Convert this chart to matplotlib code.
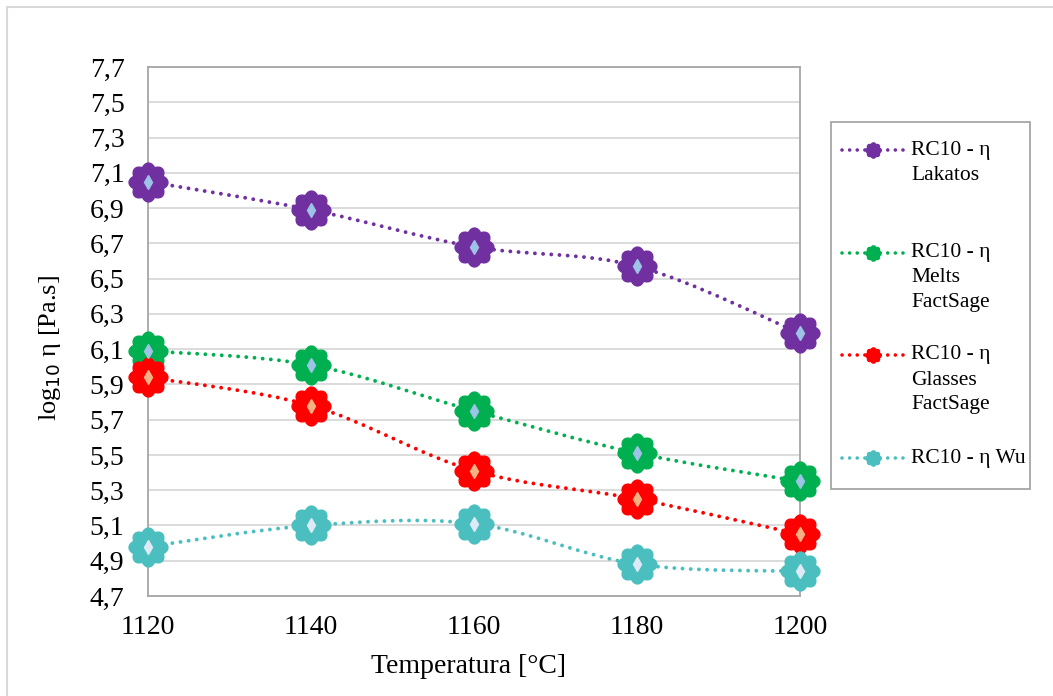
import numpy as np
import matplotlib
matplotlib.use("Agg")
import matplotlib.pyplot as plt
from matplotlib.path import Path
from matplotlib.patches import PathPatch, Rectangle
from matplotlib.ticker import FuncFormatter
from matplotlib.lines import Line2D

plt.rcParams['font.family'] = ['Liberation Serif', 'DejaVu Serif']

# Data
temps = [1120, 1140, 1160, 1180, 1200]
lakatos = [7.05, 6.89, 6.68, 6.57, 6.19]
melts = [6.09, 6.01, 5.75, 5.51, 5.35]
glasses = [5.94, 5.78, 5.41, 5.25, 5.05]
wu = [4.98, 5.10, 5.11, 4.88, 4.84]

labels = [["RC10 - η", "Lakatos"], ["RC10 - η", "Melts", "FactSage"],
          ["RC10 - η", "Glasses", "FactSage"], ["RC10 - η Wu"]]
colors = ["#7030A0", "#00B050", "#FF0000", "#4BBFBF"]
centers = ["#9DC3E6", "#9DC3E6", "#F4B183", "#DEEBF7"]

W, H = 1053, 696


def fx(px):
    return px / W


def fy(py):
    return 1 - py / H


# flower-shaped marker: rounded lobes, sharp notches
th = np.linspace(0, 2 * np.pi, 161)
r = 0.82 + 0.18 * np.abs(np.cos(4 * th))
flower = Path(np.column_stack([r * np.cos(th), r * np.sin(th)]), closed=True)

DOTS = (0, (0.01, 2.1))


def smooth_path(x, y, t=1 / 6):
    # Catmull-Rom style smoothing (like Excel's smoothed line)
    pts = np.column_stack([x, y]).astype(float)
    verts = [pts[0]]
    codes = [Path.MOVETO]
    n = len(pts)
    for i in range(n - 1):
        p0 = pts[max(i - 1, 0)]
        p1 = pts[i]
        p2 = pts[i + 1]
        p3 = pts[min(i + 2, n - 1)]
        verts += [p1 + (p2 - p0) * t, p2 - (p3 - p1) * t, p2]
        codes += [Path.CURVE4] * 3
    return Path(verts, codes)


fig = plt.figure(figsize=(W / 100, H / 100), dpi=100)
fig.patches.append(Rectangle((fx(7), -0.01), 1.05, fy(7) + 0.01,
                             transform=fig.transFigure, fill=False,
                             edgecolor="#D9D9D9", linewidth=1.5))
ax = fig.add_axes([fx(148), fy(596), fx(800) - fx(148), fy(67) - fy(596)])
ax.set_xlim(1120, 1200)
ax.set_ylim(4.7, 7.7)

for vals, c, cc in zip([lakatos, melts, glasses, wu], colors, centers):
    # smooth in display space so the curve shape isn't distorted by axis scaling
    disp = ax.transData.transform(np.column_stack([temps, vals]))
    p = smooth_path(disp[:, 0], disp[:, 1])
    v = ax.transData.inverted().transform(p.vertices)
    ax.add_patch(PathPatch(Path(v, p.codes), fill=False, edgecolor=c,
                           linewidth=2.8, linestyle=DOTS,
                           capstyle="round", zorder=3, clip_on=False))
    ax.plot(temps, vals, linestyle="none", marker=flower, markersize=28,
            markerfacecolor=c, markeredgecolor=c, zorder=4, clip_on=False)
    ax.plot(temps, vals, linestyle="none", marker="d", markersize=7.5,
            markerfacecolor=cc, markeredgecolor=cc, zorder=5, clip_on=False)

ax.set_xticks(temps)
ax.set_yticks(np.arange(4.7, 7.71, 0.2))
ax.yaxis.set_major_formatter(FuncFormatter(lambda v, p: f"{v:.1f}".replace(".", ",")))
ax.tick_params(axis="both", length=0, labelsize=20, colors="black")
ax.tick_params(axis="y", pad=17)
ax.tick_params(axis="x", pad=14)
ax.grid(axis="y", color="#D9D9D9", linewidth=1.3)
ax.set_axisbelow(True)
for s in ax.spines.values():
    s.set_color("#A6A6A6")
    s.set_linewidth(1.3)

ax.set_xlabel("Temperatura [°C]", fontsize=20)
ax.xaxis.set_label_coords((468 - 148) / 652, -(654 - 596) / 529)
ax.set_ylabel(r"log$_{10}$ η [Pa.s]", fontsize=19)
ax.yaxis.set_label_coords(-(148 - 63) / 652, (596 - 348) / 529)

# legend drawn by hand to match the layout
fig.patches.append(Rectangle((fx(831), fy(489)), fx(1030) - fx(831), fy(122) - fy(489),
                             transform=fig.transFigure, fill=False,
                             edgecolor="#A6A6A6", linewidth=1.3))
entry_y = [150, 253, 355, 458]
for c, lines, yy in zip(colors, labels, entry_y):
    fig.add_artist(Line2D([fx(842), fx(904)], [fy(yy), fy(yy)], color=c,
                          linewidth=2.6, linestyle=DOTS, dash_capstyle="round",
                          transform=fig.transFigure))
    fig.add_artist(Line2D([fx(873)], [fy(yy)], marker=flower, markersize=11,
                          markerfacecolor=c, markeredgecolor=c, linestyle="none",
                          transform=fig.transFigure))
    for k, s in enumerate(lines):
        fig.text(fx(911), fy(yy + k * 25), s, fontsize=15.5, ha="left", va="center")

fig.savefig("out.png", dpi=100)
